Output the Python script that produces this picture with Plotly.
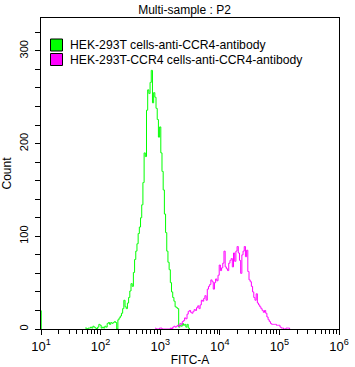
import numpy as np
import plotly.graph_objects as go

# ---------------- data ----------------
chart_title = "Multi-sample : P2"
x_title = "FITC-A"
y_title = "Count"

green_name = "HEK-293T cells-anti-CCR4-antibody"
magenta_name = "HEK-293T-CCR4 cells-anti-CCR4-antibody"

bin_step_log = 0.02          # histogram bin width in log10(FITC-A)

green_start_log = 1.74
green_counts = [
    1, 1, 0, 1, 1, 2, 1, 3, 2, 1,
    0, 2, 5, 4, 1, 2, 1, 3, 2, 6,
    7, 5, 7, 6, 7, 8, 7, 0, 10, 12,
    14, 17, 22, 31, 24, 22, 28, 34, 41, 49,
    46, 61, 75, 84, 92, 103, 110, 120, 134, 158,
    190, 186, 236, 258, 254, 266, 279, 244, 255, 250,
    238, 226, 207, 218, 190, 170, 150, 124, 104, 84,
    72, 64, 50, 40, 34, 30, 24, 23, 22, 2,
    4, 3, 6, 4, 5, 2, 5, 1, 0,
]
green_underflow_fitc = 10.1
green_underflow_count = 20

magenta_start_log = 2.92
magenta_counts = [
    1, 0, 0, 0, 1, 1, 0, 0, 0, 0,
    0, 0, 0, 1, 0, 2, 3, 2, 3, 4,
    3, 6, 5, 8, 9, 12, 11, 16, 19, 20,
    18, 17, 19, 21, 20, 23, 25, 22, 26, 31,
    30, 33, 36, 31, 43, 46, 48, 53, 51, 43,
    50, 54, 52, 58, 69, 63, 66, 71, 84, 67,
    65, 63, 71, 74, 76, 67, 82, 73, 84, 89,
    82, 74, 60, 80, 84, 89, 78, 85, 62, 53,
    51, 46, 40, 34, 31, 38, 28, 26, 24, 22,
    20, 18, 20, 17, 13, 10, 8, 6, 5, 5,
    5, 5, 4, 4, 4, 2, 1, 1, 0, 0,
    1, 1, 1, 0,
]

x_tick_vals = [1e1, 1e2, 1e3, 1e4, 1e5, 1e6]
x_tick_text = ["10<sup>1</sup>", "10<sup>2</sup>", "10<sup>3</sup>",
               "10<sup>4</sup>", "10<sup>5</sup>", "10<sup>6</sup>"]
y_tick_vals = [0, 100, 200, 300]

# ---------------- styles ----------------
GREEN = "#00FF00"
MAGENTA = "#FF00FF"
FONT = "Liberation Sans, Arial, sans-serif"

green_x = 10 ** (green_start_log + bin_step_log * np.arange(len(green_counts)))
magenta_x = 10 ** (magenta_start_log + bin_step_log * np.arange(len(magenta_counts)))

fig = go.Figure()
fig.add_trace(go.Scatter(x=green_x, y=green_counts, mode="lines", name=green_name,
                         line=dict(color=GREEN, width=1, shape="hvh"), showlegend=False))
fig.add_trace(go.Scatter(x=[green_underflow_fitc, green_underflow_fitc],
                         y=[0, green_underflow_count], mode="lines",
                         line=dict(color=GREEN, width=1), showlegend=False))
fig.add_trace(go.Scatter(x=magenta_x, y=magenta_counts, mode="lines", name=magenta_name,
                         line=dict(color=MAGENTA, width=1, shape="hvh"), showlegend=False))

minor_x = [k * 10 ** e for e in range(1, 6) for k in range(2, 10)]

fig.update_layout(
    width=355, height=367,
    margin=dict(l=41, r=16, t=18, b=38),
    paper_bgcolor="white", plot_bgcolor="white",
    font=dict(family=FONT, size=12, color="black"),
    title=dict(text=chart_title, x=184.5 / 355, y=1 - 10 / 367,
               xanchor="center", yanchor="middle", font=dict(size=12)),
    xaxis=dict(type="log", range=[1, 6], showline=True, linecolor="black", linewidth=1,
               mirror=True, showgrid=False, zeroline=False, automargin=False,
               ticks="outside", ticklen=5, tickcolor="black",
               tickvals=x_tick_vals, ticktext=x_tick_text, tickfont=dict(size=13),
               minor=dict(tickvals=minor_x, ticks="outside", ticklen=4, tickcolor="black",
                          showgrid=False),
               title=dict(text=x_title, font=dict(size=12))),
    yaxis=dict(range=[0, 335.5], showline=True, linecolor="black", linewidth=1,
               mirror=True, showgrid=False, zeroline=False, automargin=False,
               ticks="outside", ticklen=5, tickcolor="black", ticklabelstandoff=3,
               tickvals=y_tick_vals, tickangle=-90, tickfont=dict(size=11),
               minor=dict(dtick=20, ticks="outside", ticklen=5, tickcolor="black",
                          showgrid=False),
               title=dict(text=y_title, font=dict(size=12))),
)

# legend drawn as boxes + labels inside the plot (top-left)
W, H = 298.0, 311.0
def px_to_paper(px, py):
    return (px - 41) / W, (329 - py) / H

legend_rows = [(green_name, GREEN, 45.0), (magenta_name, MAGENTA, 59.5)]
for label, color, cy in legend_rows:
    x0, y0 = px_to_paper(50.5, cy + 6)
    x1, y1 = px_to_paper(62.5, cy - 6)
    fig.add_shape(type="rect", xref="paper", yref="paper", x0=x0, y0=y0, x1=x1, y1=y1,
                  fillcolor=color, line=dict(color="black", width=1))
    tx, ty = px_to_paper(67.5, cy)
    fig.add_annotation(xref="paper", yref="paper", x=tx, y=ty, text=label,
                       showarrow=False, xanchor="left", yanchor="middle",
                       font=dict(size=12.2, color="black"))

fig.write_html("out.html", config={"displayModeBar": False},
               post_script="document.body.style.margin='0';document.body.style.overflow='hidden';")
